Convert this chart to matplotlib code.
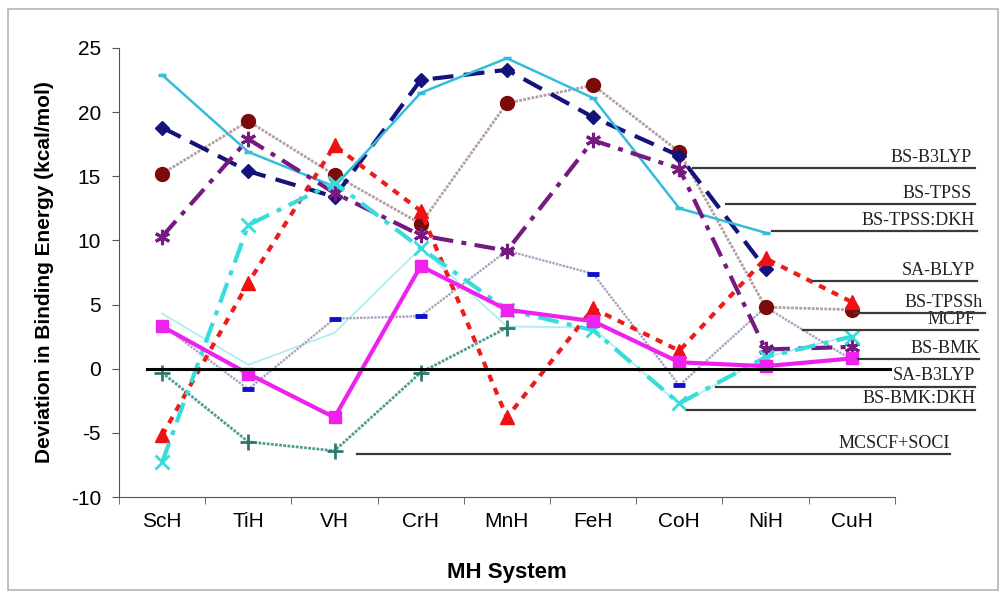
import numpy as np
import matplotlib
matplotlib.use("Agg")
import matplotlib.pyplot as plt
from matplotlib.patches import Rectangle

nan = np.nan

# MH systems on the x axis
categories = ["ScH", "TiH", "VH", "CrH", "MnH", "FeH", "CoH", "NiH", "CuH"]

# Deviation in binding energy (kcal/mol) for each method
bs_b3lyp = [10.3, 17.9, 13.7, 10.4, 9.2, 17.8, 15.6, 1.5, 1.7]
bs_tpss = [18.8, 15.4, 13.4, 22.5, 23.3, 19.6, 16.6, 7.8, nan]
bs_tpss_dkh = [22.9, 16.9, 14.2, 21.5, 24.2, 21.1, 12.5, 10.6, nan]
sa_blyp = [-5.2, 6.7, 17.4, 12.3, -3.8, 4.7, 1.4, 8.6, 5.2]
bs_tpssh = [15.2, 19.3, 15.1, 11.3, 20.7, 22.1, 16.9, 4.8, 4.6]
mcpf = [3.4, -1.6, 3.9, 4.1, 9.2, 7.4, -1.3, 4.8, 0.7]
bs_bmk = [3.3, -0.4, -3.8, 8.0, 4.6, 3.7, 0.5, 0.2, 0.8]
sa_b3lyp = [4.3, 0.3, 2.8, 9.4, 3.3, 3.2, -2.8, 0.9, 2.6]
bs_bmk_dkh = [-7.3, 11.2, 14.5, 9.4, 4.6, 3.0, -2.7, 0.9, 2.5]
mcscf_soci = [-0.3, -5.7, -6.4, -0.3, 3.2, nan, nan, nan, nan]

y_ticks = [-10, -5, 0, 5, 10, 15, 20, 25]

fig = plt.figure(figsize=(10.05, 5.97), dpi=100)
ax = fig.add_axes([0.1184, 0.1675, 0.772, 0.7521])
x = np.arange(len(categories))

# light frame around the whole chart
fig.patches.append(Rectangle((8 / 1005, 7 / 597), 990 / 1005, 581 / 597,
                             transform=fig.transFigure, fill=False,
                             edgecolor="#b4b4b4", linewidth=1.2, zorder=0))

ax.plot(x, sa_b3lyp, color="#aeeef2", lw=1.3, zorder=2)
ax.plot(x, mcpf, color="#a4a4bf", lw=1.7, ls=(0, (1, 0.5)),
        marker="_", ms=8, mew=3.5, mec="#1010c8", zorder=3)
ax.plot(x, mcscf_soci, color="#4f9c90", lw=2, ls=(0, (1, 0.5)),
        marker="+", ms=11, mew=2, mec="#2c7a6c", zorder=3)
ax.plot(x, bs_tpssh, color="#b59f9f", lw=2, ls=(0, (1, 0.5)),
        marker="o", ms=10, mfc="#7c0a0a", mec="#7c0a0a", zorder=4)
ax.plot(x, bs_tpss, color="#13137a", lw=3, ls=(0, (5, 2.5)),
        marker="D", ms=7, mfc="#13137a", mec="#13137a", zorder=4)
ax.plot(x, bs_tpss_dkh, color="#34bcdc", lw=1.8,
        marker="_", ms=6, mew=2.5, zorder=5)
ax.plot(x, bs_b3lyp, color="#761a82", lw=3, ls=(0, (5, 2, 1.2, 2)),
        marker=(6, 2, 0), ms=11, mew=2.2, mec="#761a82", zorder=5)
ax.plot(x, sa_blyp, color="#ee1b1b", lw=3, ls=(0, (1.7, 1.7)),
        marker="^", ms=10, mfc="#ee1111", mec="#ee1111", zorder=6)
ax.plot(x, bs_bmk_dkh, color="#38dcdc", lw=3, ls=(0, (5, 2, 1.2, 2)),
        marker="x", ms=10, mew=2, mec="#38dcdc", zorder=6)
ax.plot(x, bs_bmk, color="#ee22ee", lw=3,
        marker="s", ms=9, mfc="#ee22ee", mec="#ee22ee", zorder=7)

# zero reference line
ax.plot([-0.17, 8.44], [0, 0], color="black", lw=2.2, zorder=8, clip_on=False)

# method labels with leader lines: (text, y, line start x, line end x, text right x)
leaders = [
    ("BS-B3LYP", 15.64, 6.16, 9.43, 9.39),
    ("BS-TPSS", 12.83, 6.54, 9.43, 9.39),
    ("BS-TPSS:DKH", 10.73, 7.07, 9.45, 9.43),
    ("SA-BLYP", 6.84, 7.55, 9.45, 9.43),
    ("BS-TPSSh", 4.34, 8.03, 9.54, 9.52),
    ("MCPF", 3.02, 7.43, 9.46, 9.43),
    ("BS-BMK", 0.76, 8.07, 9.48, 9.48),
    ("SA-B3LYP", -1.40, 6.43, 9.43, 9.43),
    ("BS-BMK:DKH", -3.20, 6.09, 9.43, 9.43),
    ("MCSCF+SOCI", -6.65, 2.26, 9.14, 9.14),
]
for text, yv, x0, x1, xt in leaders:
    ax.plot([x0, x1], [yv, yv], color="#3a3a3a", lw=1.6, zorder=9, clip_on=False)
    ax.text(xt, yv + 0.18, text, ha="right", va="bottom", fontsize=13,
            family="Liberation Serif", color="#222222", clip_on=False)

ax.set_xlim(-0.5, 8.5)
ax.set_ylim(-10, 25)
ax.set_yticks(y_ticks)
ax.set_yticklabels([str(v) for v in y_ticks], fontsize=15, family="Liberation Sans")
ax.set_xticks(x)
ax.set_xticklabels(categories, fontsize=15, family="Liberation Sans")
ax.set_xticks(np.arange(-0.5, 9, 1), minor=True)
ax.tick_params(axis="x", which="major", length=0, pad=11)
ax.tick_params(axis="x", which="minor", length=5, direction="out", color="#555555")
ax.tick_params(axis="y", length=5, direction="out", color="#555555", pad=8)

for side in ("top", "right"):
    ax.spines[side].set_visible(False)
ax.spines["left"].set_color("#555555")
ax.spines["bottom"].set_color("#555555")

ax.set_ylabel("Deviation in Binding Energy (kcal/mol)", fontsize=15,
              fontweight="bold", family="Liberation Sans", labelpad=12)
ax.set_xlabel("MH System", fontsize=16, fontweight="bold",
              family="Liberation Sans", labelpad=22)

fig.savefig("out.png", dpi=100)
